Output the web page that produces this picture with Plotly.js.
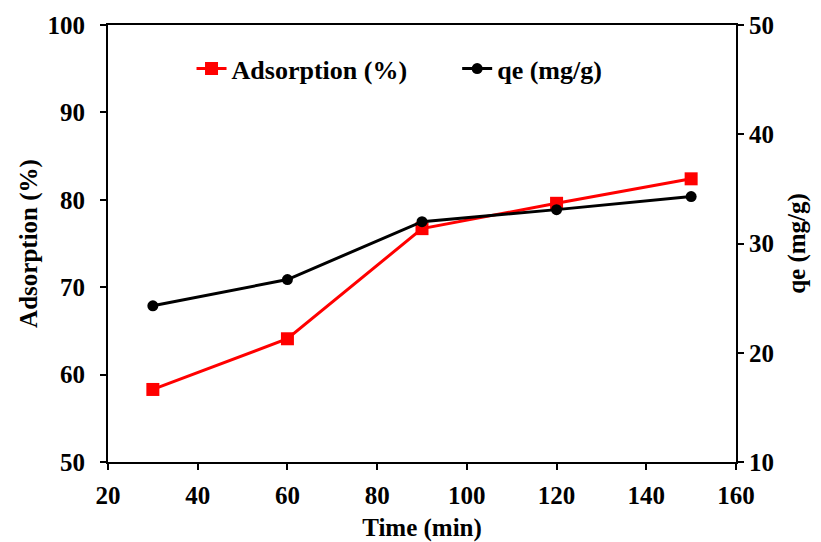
<!DOCTYPE html>
<html><head><meta charset="utf-8">
<script src="https://cdn.plot.ly/plotly-3.0.1.min.js"></script>
<style>html,body{margin:0;padding:0;background:#fff}</style>
</head><body><div id="chart" style="width:821px;height:542px"></div>
<script>
var time = [30, 60, 90, 120, 150];
var adsorption = [58.3, 64.1, 76.7, 79.6, 82.4];
var qe = [24.3, 26.7, 32.0, 33.1, 34.3];
var F = "Liberation Serif, Times New Roman, serif";
var tr1 = {x: time, y: adsorption, name: "Adsorption (%)", type: "scatter", mode: "lines+markers",
  line: {color: "#ff0000", width: 3}, marker: {symbol: "square", size: 13, color: "#ff0000"}, legend: "legend"};
var tr2 = {x: time, y: qe, name: "qe (mg/g)", type: "scatter", mode: "lines+markers", yaxis: "y2",
  line: {color: "#000000", width: 3}, marker: {symbol: "circle", size: 11, color: "#000000"}, legend: "legend2"};
var tickF = {family: F, size: 25, color: "#000", weight: "bold"};
var titleF = {family: F, size: 25, color: "#000", weight: "bold"};
var legF = {family: F, size: 26, color: "#000", weight: "bold"};
var layout = {
  width: 821, height: 542,
  margin: {l: 108, r: 85, t: 25, b: 80},
  paper_bgcolor: "#fff", plot_bgcolor: "#fff",
  font: {family: F, size: 20, color: "#000", weight: "bold"},
  showlegend: true,
  legend: {x: 0.133, y: 0.90, xanchor: "left", yanchor: "middle", font: legF, bgcolor: "rgba(0,0,0,0)"},
  legend2: {x: 0.556, y: 0.90, xanchor: "left", yanchor: "middle", font: legF, bgcolor: "rgba(0,0,0,0)"},
  xaxis: {range: [20, 160], dtick: 20, tick0: 20, showgrid: false, zeroline: false,
    showline: true, linecolor: "#000", linewidth: 2, mirror: true,
    ticks: "outside", ticklen: 6, tickwidth: 2, tickcolor: "#000",
    tickfont: tickF, ticklabelstandoff: 4,
    title: {text: "Time (min)", font: titleF, standoff: 10}},
  yaxis: {range: [50, 100], dtick: 10, showgrid: false, zeroline: false,
    showline: true, linecolor: "#000", linewidth: 2,
    ticks: "outside", ticklen: 6, tickwidth: 2, tickcolor: "#000",
    tickfont: tickF, ticklabelstandoff: 10,
    title: {text: "Adsorption (%)", font: titleF, standoff: 3}},
  yaxis2: {range: [10, 50], dtick: 10, overlaying: "y", side: "right", showgrid: false, zeroline: false,
    showline: true, linecolor: "#000", linewidth: 2,
    ticks: "outside", ticklen: 6, tickwidth: 2, tickcolor: "#000",
    tickfont: tickF,
    title: {text: "qe (mg/g)", font: titleF, standoff: 14}}
};
Plotly.newPlot("chart", [tr1, tr2], layout, {displayModeBar: false, staticPlot: true});
</script></body></html>
